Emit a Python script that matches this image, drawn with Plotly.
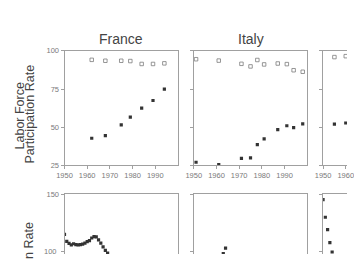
import plotly.graph_objects as go

# ---------------- data ----------------
france_years = [1962, 1968, 1975, 1979, 1984, 1989, 1994]
france_male = [94.1, 93.5, 93.5, 93.3, 91.4, 91.4, 91.8]
france_female = [42.8, 44.5, 51.6, 56.6, 62.5, 67.5, 74.9]

italy_years = [1951, 1961, 1971, 1975, 1978, 1981, 1987, 1991, 1994, 1998]
italy_male = [94.5, 93.6, 91.5, 89.8, 94.0, 91.1, 91.7, 91.3, 87.3, 86.3]
italy_female = [27.1, 25.6, 29.6, 30.0, 38.6, 42.4, 48.5, 51.0, 49.7, 52.2]

third_years = [1955, 1960]
third_male = [95.9, 96.5]
third_female = [52.0, 52.8]

france_b_years = list(range(1950, 1970))
france_b_vals = [115.2, 109.0, 107.3, 106.0, 107.0, 106.2, 106.0, 106.2, 106.7, 107.5,
                 108.8, 109.8, 112.0, 113.2, 113.0, 110.4, 107.6, 104.2, 101.2, 98.8]
italy_b_years = [1963, 1964]
italy_b_vals = [98.5, 103.2]
third_b_years = [1950, 1951, 1952, 1953, 1954]
third_b_vals = [145.5, 130.1, 119.4, 108.0, 99.8]

col_titles = ["France", "Italy"]
top_ytitle = ["Labor Force", "Participation Rate"]
bottom_ytitle = "Inflation Rate"
x_ticks = [1950, 1960, 1970, 1980, 1990]
top_yticks = [25, 50, 75, 100]
bot_yticks = [50, 100, 150]

# ---------------- layout helpers ----------------
W, H = 354, 259
def fx(p):
    return p / W
def fy(p):
    return 1 - p / H

FONT = "Liberation Sans, Arial, sans-serif"
FRAME = "#a0a0a0"
TICKC = "#7a7a7a"
TXT = "#444444"
OPEN_C = "#7c7c7c"
FILL_C = "#333333"

col_dom = [[fx(59), fx(177.5)], [fx(194), fx(312.5)], [fx(329), 1.0]]
third_xmax = 1950 + (354 - 329) / (118.5 / 50)
col_xrange = [[1950, 2000], [1950, 2000], [1950, third_xmax]]
top_dom = [fy(167.3), fy(48.5)]
bot_dom = [0.0, fy(197.3)]
bot_ymin = 150 - (259 - 197.3) / (59.4 / 50)

fig = go.Figure()

top_series = [(france_years, france_male, france_female),
              (italy_years, italy_male, italy_female),
              (third_years, third_male, third_female)]
bot_series = [(france_b_years, france_b_vals),
              (italy_b_years, italy_b_vals),
              (third_b_years, third_b_vals)]

layout = dict(
    width=W, height=H, margin=dict(l=0, r=0, t=0, b=0),
    paper_bgcolor="white", plot_bgcolor="white", showlegend=False,
    font=dict(family=FONT, color=TXT),
)

# the label at the page edge is drawn as an annotation below
bot_ticktext = [str(bot_yticks[0]), "", str(bot_yticks[2])]

for c in range(3):
    it = c + 1
    ib = c + 4
    xs_t = "x" if it == 1 else f"x{it}"
    ys_t = "y" if it == 1 else f"y{it}"
    xs_b = f"x{ib}"
    ys_b = f"y{ib}"
    yrs, m, f = top_series[c]
    fig.add_trace(go.Scatter(x=yrs, y=m, mode="markers", xaxis=xs_t, yaxis=ys_t,
                             marker=dict(symbol="square-open", size=3.5, color=OPEN_C,
                                         line=dict(width=0.8, color=OPEN_C))))
    fig.add_trace(go.Scatter(x=yrs, y=f, mode="markers", xaxis=xs_t, yaxis=ys_t,
                             marker=dict(symbol="square", size=3.2, color=FILL_C)))
    by, bv = bot_series[c]
    fig.add_trace(go.Scatter(x=by, y=bv, mode="markers", xaxis=xs_b, yaxis=ys_b,
                             marker=dict(symbol="square", size=3.2, color=FILL_C)))

    kx_t = "xaxis" if it == 1 else f"xaxis{it}"
    ky_t = "yaxis" if it == 1 else f"yaxis{it}"
    layout[kx_t] = dict(domain=col_dom[c], range=col_xrange[c], anchor=ys_t,
                        showgrid=False, zeroline=False, showline=True, mirror=True,
                        linecolor=FRAME, linewidth=1, ticks="outside", ticklen=3,
                        tickcolor=FRAME, tickvals=x_ticks, ticklabeloverflow="allow",
                        tickfont=dict(size=7.5, color=TICKC, family=FONT))
    layout[ky_t] = dict(domain=top_dom, range=[25, 100], anchor=xs_t,
                        showgrid=False, zeroline=False, showline=True,
                        mirror=(c < 2), linecolor=FRAME, linewidth=1,
                        ticks="outside", ticklen=3, tickcolor=FRAME,
                        tickvals=top_yticks, showticklabels=(c == 0),
                        ticklabeloverflow="allow",
                        tickfont=dict(size=7.5, color=TICKC, family=FONT))
    layout[f"xaxis{ib}"] = dict(domain=col_dom[c], range=col_xrange[c], anchor=ys_b,
                                side="top", showgrid=False, zeroline=False,
                                showline=True, mirror=False, linecolor=FRAME,
                                linewidth=1, ticks="", showticklabels=False)
    layout[f"yaxis{ib}"] = dict(domain=bot_dom, range=[bot_ymin, 150], anchor=xs_b,
                                showgrid=False, zeroline=False, showline=True,
                                mirror=(c < 2), linecolor=FRAME, linewidth=1,
                                ticks="outside", ticklen=3, tickcolor=FRAME,
                                tickvals=bot_yticks, ticktext=bot_ticktext,
                                showticklabels=(c == 0),
                                ticklabeloverflow="allow",
                                tickfont=dict(size=7.5, color=TICKC, family=FONT))

annotations = []
for c, t in enumerate(col_titles):
    cx = (col_dom[c][0] + col_dom[c][1]) / 2
    annotations.append(dict(text=t, x=cx, y=fy(36), xref="paper", yref="paper",
                            xanchor="center", yanchor="middle", showarrow=False,
                            font=dict(size=14, color=TXT, family=FONT)))
annotations.append(dict(text=top_ytitle[0], x=fx(12), y=fy(116), xref="paper",
                        yref="paper", xanchor="center", yanchor="middle",
                        textangle=-90, showarrow=False,
                        font=dict(size=12.5, color=TXT, family=FONT)))
annotations.append(dict(text=top_ytitle[1], x=fx(22.5), y=fy(114), xref="paper",
                        yref="paper", xanchor="center", yanchor="middle",
                        textangle=-90, showarrow=False,
                        font=dict(size=12.5, color=TXT, family=FONT)))
annotations.append(dict(text=bottom_ytitle, x=fx(22.5), y=fy(224), xref="paper",
                        yref="paper", xanchor="center", yanchor="top",
                        textangle=-90, showarrow=False,
                        font=dict(size=12.5, color=TXT, family=FONT)))
# bottom-row tick label near the page edge, placed on the y4 scale
annotations.append(dict(text=str(bot_yticks[1]), x=fx(53), y=bot_yticks[1],
                        xref="paper", yref="y4", xanchor="right", yanchor="middle",
                        showarrow=False,
                        font=dict(size=7.5, color=TICKC, family=FONT)))
layout["annotations"] = annotations

fig.update_layout(**layout)
fig.write_html("out.html")
